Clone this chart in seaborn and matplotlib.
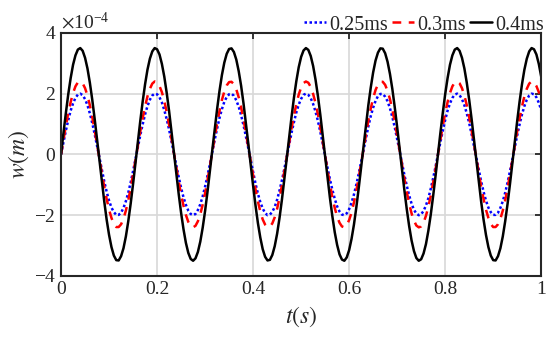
import numpy as np
import pandas as pd
import seaborn as sns
import matplotlib
matplotlib.use("Agg")
import matplotlib.pyplot as plt
from matplotlib.ticker import ScalarFormatter

t = np.round(np.linspace(0, 1, 201), 3)
w_025 = [0, 0.40, 0.78, 1.13, 1.44, 1.68, 1.86, 1.97, 2.00, 1.95, 1.82, 1.62, 1.35, 1.03, 0.67, 0.28, -0.12, -0.51, -0.89, -1.23,
         -1.52, -1.75, -1.90, -1.99, -1.99, -1.92, -1.76, -1.54, -1.26, -0.92, -0.55, -0.16, 0.24, 0.63, 0.99, 1.32, 1.59, 1.80, 1.94, 2.00,
         1.98, 1.88, 1.71, 1.46, 1.16, 0.82, 0.44, 0.04, -0.36, -0.74, -1.10, -1.41, -1.66, -1.85, -1.96, -2.00, -1.96, -1.83, -1.64, -1.38,
         -1.06, -0.70, -0.32, 0.08, 0.48, 0.85, 1.20, 1.49, 1.73, 1.89, 1.98, 2.00, 1.93, 1.78, 1.57, 1.29, 0.96, 0.59, 0.20, -0.20,
         -0.59, -0.96, -1.29, -1.57, -1.78, -1.93, -2.00, -1.98, -1.89, -1.73, -1.49, -1.19, -0.85, -0.48, -0.08, 0.32, 0.71, 1.06, 1.38, 1.64,
         1.83, 1.96, 2.00, 1.96, 1.85, 1.66, 1.41, 1.10, 0.74, 0.36, -0.04, -0.44, -0.82, -1.16, -1.46, -1.71, -1.88, -1.98, -2.00, -1.94,
         -1.80, -1.59, -1.32, -0.99, -0.63, -0.24, 0.16, 0.55, 0.92, 1.26, 1.54, 1.76, 1.92, 1.99, 1.99, 1.90, 1.75, 1.52, 1.23, 0.89,
         0.51, 0.12, -0.28, -0.67, -1.03, -1.35, -1.62, -1.82, -1.95, -2.00, -1.97, -1.86, -1.68, -1.44, -1.13, -0.78, -0.40, 0, 0.40, 0.78,
         1.13, 1.44, 1.68, 1.86, 1.97, 2.00, 1.95, 1.82, 1.62, 1.35, 1.03, 0.67, 0.28, -0.12, -0.51, -0.89, -1.23, -1.52, -1.75, -1.90,
         -1.99, -1.99, -1.92, -1.76, -1.54, -1.26, -0.92, -0.55, -0.16, 0.24, 0.63, 0.99, 1.32, 1.59, 1.80, 1.94, 2.00, 1.98, 1.88, 1.70,
         1.46]
w_03 = [0, 0.48, 0.94, 1.36, 1.72, 2.02, 2.24, 2.37, 2.40, 2.34, 2.18, 1.94, 1.62, 1.23, 0.80, 0.34, -0.14, -0.62, -1.07, -1.47,
        -1.82, -2.09, -2.29, -2.39, -2.39, -2.30, -2.12, -1.85, -1.51, -1.11, -0.66, -0.19, 0.29, 0.76, 1.19, 1.58, 1.91, 2.16, 2.33, 2.40,
        2.37, 2.25, 2.05, 1.76, 1.40, 0.98, 0.52, 0.05, -0.43, -0.89, -1.32, -1.69, -1.99, -2.22, -2.36, -2.40, -2.35, -2.20, -1.97, -1.65,
        -1.28, -0.85, -0.38, 0.10, 0.57, 1.02, 1.43, 1.79, 2.07, 2.27, 2.38, 2.39, 2.31, 2.14, 1.88, 1.55, 1.15, 0.71, 0.24, -0.24,
        -0.71, -1.15, -1.55, -1.88, -2.14, -2.31, -2.39, -2.38, -2.27, -2.07, -1.79, -1.43, -1.02, -0.57, -0.10, 0.38, 0.85, 1.28, 1.65, 1.97,
        2.20, 2.35, 2.40, 2.36, 2.22, 1.99, 1.69, 1.32, 0.89, 0.43, -0.05, -0.52, -0.98, -1.40, -1.76, -2.05, -2.25, -2.37, -2.40, -2.33,
        -2.16, -1.91, -1.58, -1.19, -0.76, -0.29, 0.19, 0.66, 1.11, 1.51, 1.85, 2.12, 2.30, 2.39, 2.39, 2.29, 2.09, 1.82, 1.47, 1.07,
        0.62, 0.14, -0.34, -0.80, -1.23, -1.62, -1.94, -2.18, -2.34, -2.40, -2.37, -2.24, -2.02, -1.72, -1.36, -0.93, -0.48, 0, 0.48, 0.94,
        1.36, 1.72, 2.02, 2.24, 2.37, 2.40, 2.34, 2.18, 1.94, 1.62, 1.23, 0.80, 0.33, -0.14, -0.62, -1.07, -1.47, -1.82, -2.09, -2.29,
        -2.39, -2.39, -2.30, -2.12, -1.85, -1.51, -1.11, -0.66, -0.19, 0.29, 0.76, 1.19, 1.58, 1.91, 2.16, 2.33, 2.40, 2.37, 2.25, 2.05,
        1.76]
w_04 = [0, 0.70, 1.36, 1.98, 2.51, 2.95, 3.26, 3.45, 3.50, 3.41, 3.18, 2.83, 2.36, 1.80, 1.17, 0.49, -0.21, -0.90, -1.55, -2.15,
        -2.65, -3.05, -3.33, -3.48, -3.49, -3.35, -3.09, -2.70, -2.20, -1.62, -0.97, -0.28, 0.42, 1.10, 1.74, 2.31, 2.79, 3.15, 3.39, 3.50,
        3.46, 3.29, 2.98, 2.56, 2.03, 1.43, 0.76, 0.07, -0.63, -1.30, -1.92, -2.46, -2.91, -3.24, -3.44, -3.50, -3.42, -3.21, -2.87, -2.41,
        -1.86, -1.23, -0.56, 0.14, 0.83, 1.49, 2.09, 2.61, 3.02, 3.31, 3.47, 3.49, 3.37, 3.12, 2.74, 2.26, 1.68, 1.03, 0.35, -0.35,
        -1.03, -1.68, -2.26, -2.74, -3.12, -3.37, -3.49, -3.47, -3.31, -3.02, -2.61, -2.09, -1.49, -0.83, -0.14, 0.56, 1.23, 1.86, 2.41, 2.87,
        3.21, 3.42, 3.50, 3.44, 3.24, 2.91, 2.46, 1.92, 1.30, 0.63, -0.07, -0.76, -1.43, -2.03, -2.56, -2.98, -3.29, -3.46, -3.50, -3.39,
        -3.15, -2.78, -2.31, -1.74, -1.10, -0.42, 0.28, 0.97, 1.62, 2.20, 2.70, 3.09, 3.35, 3.49, 3.48, 3.33, 3.05, 2.65, 2.15, 1.55,
        0.90, 0.21, -0.49, -1.17, -1.80, -2.36, -2.83, -3.18, -3.41, -3.50, -3.45, -3.26, -2.95, -2.51, -1.98, -1.36, -0.70, 0, 0.70, 1.36,
        1.98, 2.51, 2.95, 3.26, 3.45, 3.50, 3.41, 3.18, 2.83, 2.36, 1.80, 1.17, 0.49, -0.21, -0.90, -1.56, -2.15, -2.65, -3.05, -3.33,
        -3.48, -3.49, -3.35, -3.09, -2.70, -2.20, -1.62, -0.97, -0.28, 0.42, 1.10, 1.74, 2.31, 2.79, 3.15, 3.39, 3.50, 3.46, 3.29, 2.98,
        2.56]
labels = ["0.25ms", "0.3ms", "0.4ms"]

df = pd.concat([
    pd.DataFrame({"t": t, "w": np.array(w_025) * 1e-4, "case": labels[0]}),
    pd.DataFrame({"t": t, "w": np.array(w_03) * 1e-4, "case": labels[1]}),
    pd.DataFrame({"t": t, "w": np.array(w_04) * 1e-4, "case": labels[2]}),
])

sns.set_style("white")
plt.rcParams['font.family'] = ['Liberation Serif', 'DejaVu Serif']
plt.rcParams['mathtext.fontset'] = 'stix'
plt.rcParams['axes.unicode_minus'] = False

fig = plt.figure(figsize=(5.5, 3.39), dpi=100)
ax = fig.add_axes([0.111, 0.186, 0.873, 0.717])

pal = {"0.25ms": "#0000ff", "0.3ms": "#ff0000", "0.4ms": "#000000"}
dash = {"0.25ms": (1, 1), "0.3ms": (3.5, 3), "0.4ms": ""}
sns.lineplot(data=df, x="t", y="w", hue="case", style="case", palette=pal,
             dashes=dash, linewidth=1.8, ax=ax)

ax.set_xlim(0, 1)
ax.set_ylim(-4e-4, 4e-4)
ax.set_xticks([0, 0.2, 0.4, 0.6, 0.8, 1])
ax.set_xticklabels(["0", "0.2", "0.4", "0.6", "0.8", "1"])
ax.set_yticks([-4e-4, -2e-4, 0, 2e-4, 4e-4])
fmt = ScalarFormatter(useMathText=True)
fmt.set_powerlimits((-1, 1))
ax.yaxis.set_major_formatter(fmt)
ax.yaxis.get_offset_text().set_fontsize(14)
ax.tick_params(direction="in", top=True, right=True, labelsize=14,
               length=4, width=1.3, colors="#262626")
ax.grid(True, color="#d8d8d8", linewidth=1.2)
for s in ax.spines.values():
    s.set_linewidth(1.5)
    s.set_color("#262626")

ax.set_xlabel("$t(s)$", fontsize=17, labelpad=5)
ax.set_ylabel("$w(m)$", fontsize=17, labelpad=2)

ax.legend(loc="lower right", bbox_to_anchor=(1.01, 0.985), ncol=3,
          frameon=False, fontsize=14.5, handlelength=1.1, handletextpad=0.15,
          columnspacing=0.2, borderaxespad=0, borderpad=0.1)

fig.savefig("out.png", dpi=100)
